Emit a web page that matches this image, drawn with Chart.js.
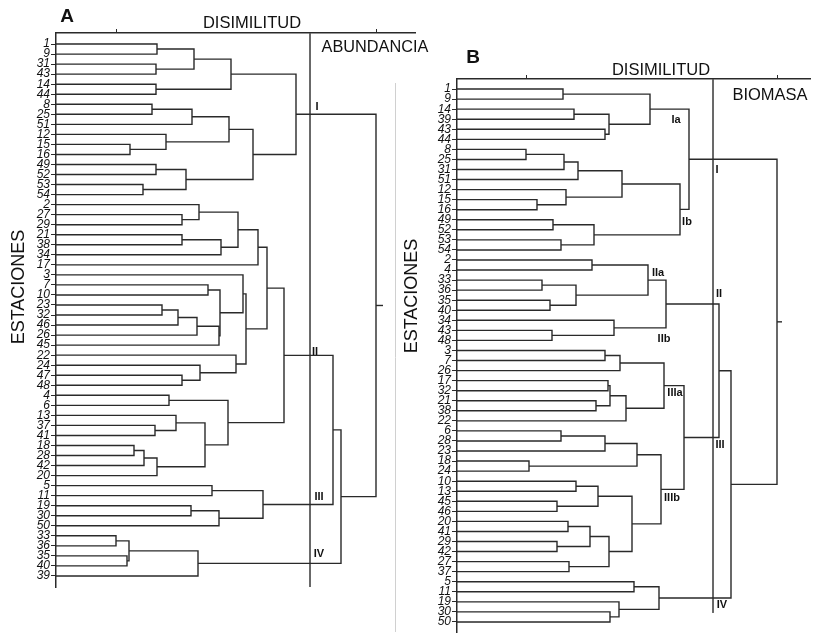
<!DOCTYPE html>
<html><head><meta charset="utf-8">
<script src="https://cdn.jsdelivr.net/npm/chart.js@4.4.1/dist/chart.umd.min.js"></script>
<style>
html,body{margin:0;padding:0;background:#fff;}
#wrap{position:relative;width:825px;height:641px;overflow:hidden;background:#fff;}
canvas{position:absolute;left:0;top:0;}
</style></head><body>
<div id="wrap"><canvas id="cA" width="825" height="641"></canvas><canvas id="cB" width="825" height="641"></canvas></div>
<script>
// ---------- DATA ----------
// Panel A (ABUNDANCIA): leaf order top to bottom
const leavesA = ['1','9','31','43','14','44','8','25','51','12','15','16','49','52','53','54','2','27','29','21','38','34','17','3','7','10','23','32','46','26','45','22','24','47','48','4','6','13','37','41','18','28','42','20','5','11','19','30','50','33','36','35','40','39'];
// merges: [left, right, dissimilarity]; integers = leaf positions
const A_Ia = [[[0,1,101],[2,3,100],138],[4,5,100],175];
const A_Ib = [[[[6,7,96],8,136],[9,[10,11,74],110],173],[[12,13,100],[14,15,87],130],197];
const A_I = [A_Ia, A_Ib, 240];
const A_IIa = [[[16,[17,18,126],143],[[19,20,126],21,165],182],22,202];
const A_IIb = [[23,[[24,25,152],[[[[26,27,106],28,122],29,141],30,163],164],187],[31,[32,[33,34,126],144],180],190];
const A_IIc = [[35,36,113],[[37,[38,39,99],120],[[[40,41,78],42,88],43,101],149],172];
const A_II = [[A_IIa, A_IIb, 211], A_IIc, 228];
const A_III = [[44,45,156],[[46,47,135],48,163],207];
const A_IV = [[[49,50,60],[51,52,71],73],53,142];
const treeA = [A_I, [[A_II, A_III, 277], A_IV, 285], 320];
const rootStubA = 327;
const cutA = 254;
const xTicksA = [60, 320];
const clusterNamesA = ['I','II','III','IV'];
const clusterPosA = [[261,6.3],[259,30.7],[263,45.1],[263,50.8]];

// Panel B (BIOMASA)
const leavesB = ['1','9','14','39','43','44','8','25','31','51','12','15','16','49','52','53','54','2','4','33','36','35','40','34','43','48','3','7','26','17','32','21','38','22','6','28','23','18','24','10','13','45','46','20','41','29','42','27','37','5','11','19','30','50'];
const B_Ia = [[0,1,106],[[2,3,117],[4,5,148],152],193];
const B_Ib = [[[[[6,7,69],8,107],9,121],[10,[11,12,80],109],165],[[13,14,96],[15,16,104],137],223];
const B_I = [B_Ia, B_Ib, 232];
const B_IIa = [[17,18,135],[[19,20,85],[21,22,93],119],191];
const B_IIb = [23,[24,25,95],157];
const B_II = [B_IIa, B_IIb, 209];
const B_IIIa = [[[26,27,148],28,163],[[[29,30,151],[31,32,139],153],33,169],207];
const B_IIIb = [[[[34,35,104],36,148],[37,38,72],180],[[[39,40,119],[41,42,100],141],[[[43,44,111],[45,46,100],133],[47,48,112],152],175],204];
const B_III = [B_IIIa, B_IIIb, 227];
const B_IV = [[49,50,177],[51,[52,53,153],162],202];
const treeB = [B_I, [[B_II, B_III, 262], B_IV, 274], 320];
const rootStubB = 325;
const cutB = 256;
const xTicksB = [69, 320];
const clusterNamesB = ['Ia','Ib','I','IIa','IIb','II','IIIa','III','IIIb','IV'];
const clusterPosB = [[219,3.1],[230,13.2],[260,8.0],[201,18.3],[207,24.9],[262,20.4],[218,30.2],[263,35.4],[215,40.7],[265,51.3]];

// ---------- BUILD ----------
const FONT = "'Liberation Sans', Arial, Helvetica, sans-serif";
const LINE = '#2a2a2a';

function buildSegments(tree) {
  const segs = [];
  function walk(n) {
    if (typeof n === 'number') return {y: n, h: 0};
    const l = walk(n[0]), r = walk(n[1]), h = n[2];
    segs.push([{x:l.h,y:l.y},{x:h,y:l.y},{x:h,y:r.y},{x:r.h,y:r.y}]);
    return {y: (l.y + r.y) / 2, h: h};
  }
  const root = walk(tree);
  return {segs, root};
}

function makeChart(id, cfg) {
  const {segs, root} = buildSegments(cfg.tree);
  const datasets = segs.map(s => ({data: s, borderColor: LINE, borderWidth: 1.4, pointRadius: 0, showLine: true, tension: 0, fill: false}));
  datasets.push({data: [{x: root.h, y: root.y}, {x: cfg.stub, y: root.y}], borderColor: LINE, borderWidth: 1.4, pointRadius: 0, showLine: true});
  datasets.push({data: [{x: cfg.cut, y: cfg.cutY[0]}, {x: cfg.cut, y: cfg.cutY[1]}], borderColor: '#555', borderWidth: 1, pointRadius: 0, showLine: true});

  const textPlugin = {
    id: 'txt' + id,
    afterDraw(chart) {
      const ctx = chart.ctx, sx = chart.scales.x, sy = chart.scales.y;
      ctx.save();
      ctx.fillStyle = '#111';
      ctx.textAlign = 'center';
      ctx.textBaseline = 'middle';
      cfg.texts.forEach(t => {
        ctx.font = t.font;
        if (t.rot) {
          ctx.save(); ctx.translate(t.x, t.y); ctx.rotate(-Math.PI / 2);
          ctx.fillText(t.t, 0, 0); ctx.restore();
        } else ctx.fillText(t.t, t.x, t.y);
      });
      ctx.font = 'bold 11px ' + FONT;
      cfg.names.forEach((nm, i) => {
        const p = cfg.namePos[i];
        ctx.fillText(nm, sx.getPixelForValue(p[0]), sy.getPixelForValue(p[1]));
      });
      if (cfg.divider) {
        ctx.strokeStyle = '#d0d0d0'; ctx.lineWidth = 1;
        ctx.beginPath(); ctx.moveTo(cfg.divider[0], cfg.divider[1]); ctx.lineTo(cfg.divider[0], cfg.divider[2]); ctx.stroke();
      }
      ctx.restore();
    }
  };

  return new Chart(document.getElementById(id), {
    type: 'scatter',
    data: {datasets},
    plugins: [textPlugin],
    options: {
      responsive: false,
      animation: false,
      events: [],
      layout: {padding: cfg.padding},
      plugins: {legend: {display: false}, tooltip: {enabled: false}},
      scales: {
        x: {
          type: 'linear', position: 'top', min: 0, max: cfg.xmax,
          afterBuildTicks: s => { s.ticks = cfg.xticks.map(v => ({value: v})); },
          afterFit: s => { s.height = 33; },
          ticks: {display: false},
          grid: {display: true, drawOnChartArea: false, drawTicks: true, tickLength: 4, color: LINE, lineWidth: 1},
          border: {display: true, color: LINE, width: 1.5}
        },
        y: {
          type: 'linear', reverse: true, min: cfg.ymin, max: cfg.ymax,
          afterBuildTicks: s => { s.ticks = cfg.leaves.map((_, i) => ({value: i})); },
          afterFit: s => { s.width = cfg.yw; },
          ticks: {autoSkip: false, padding: 1, color: '#111', font: {family: FONT, size: 12, style: 'italic'},
                  callback: v => cfg.leaves[v] !== undefined ? cfg.leaves[v] : ''},
          grid: {display: true, drawOnChartArea: false, drawTicks: true, tickLength: 5, color: LINE, lineWidth: 1},
          border: {display: true, color: LINE, width: 1.5}
        }
      }
    }
  });
}

makeChart('cA', {
  tree: treeA, leaves: leavesA, stub: rootStubA, cut: cutA, cutY: [-1.1, 54.1],
  xmax: 359, xticks: xTicksA, ymin: -1.1, ymax: 54.1, yw: 56,
  padding: {left: 0, top: 0, right: 410, bottom: 54},
  names: clusterNamesA, namePos: clusterPosA,
  divider: [395.5, 83, 632],
  texts: [
    {t: 'A', x: 67, y: 17, font: 'bold 19px ' + FONT},
    {t: 'DISIMILITUD', x: 252, y: 23, font: '16.5px ' + FONT},
    {t: 'ABUNDANCIA', x: 375, y: 48, font: '16.3px ' + FONT},
    {t: 'ESTACIONES', x: 19, y: 287, rot: true, font: '18px ' + FONT}
  ]
});

makeChart('cB', {
  tree: treeB, leaves: leavesB, stub: rootStubB, cut: cutB, cutY: [-1.0, 52.1],
  xmax: 353, xticks: xTicksB, ymin: -1.0, ymax: 54.0, yw: 57,
  padding: {left: 400, top: 46, right: 15, bottom: 9},
  names: clusterNamesB, namePos: clusterPosB,
  divider: null,
  texts: [
    {t: 'B', x: 473, y: 58, font: 'bold 19px ' + FONT},
    {t: 'DISIMILITUD', x: 661, y: 70, font: '16.5px ' + FONT},
    {t: 'BIOMASA', x: 770, y: 95, font: '16.5px ' + FONT},
    {t: 'ESTACIONES', x: 412, y: 296, rot: true, font: '18px ' + FONT}
  ]
});
</script>
</body></html>
